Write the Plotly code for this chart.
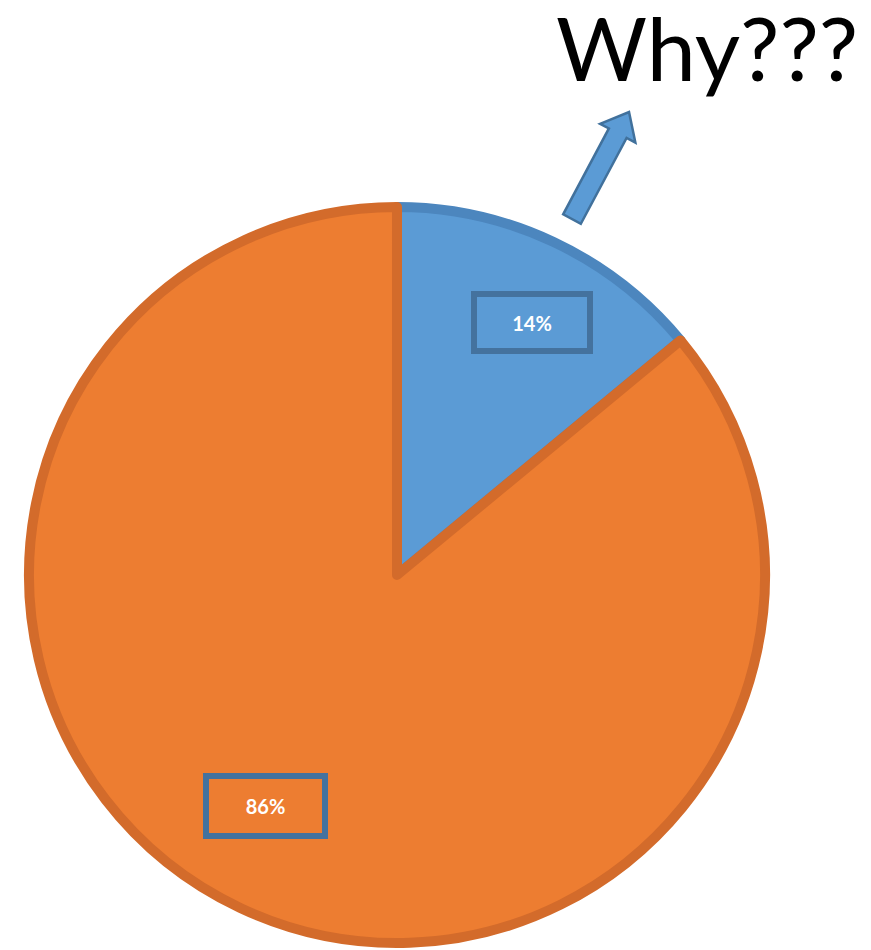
import math
import plotly.graph_objects as go

W, H = 871, 950
OFF = 8  # default page body margin

labels = ["Why", "Other"]
values = [14, 86]
text_labels = ["14%", "86%"]
fill_colors = ["#5B9BD5", "#ED7D31"]
line_colors = ["#4C86BE", "#D36B2B"]
title_text = "Why???"


def px(x, y):
    return (x - OFF) / W, 1 - (y - OFF) / H


fig = go.Figure()

# pie domain in reference pixels (left, right, top, bottom)
L, R, T, B = 29, 765, 207, 943
x0, y1 = px(L, T)
x1, y0 = px(R, B)
fig.add_trace(go.Pie(
    labels=labels, values=values, sort=False, direction="clockwise", rotation=0,
    marker=dict(colors=fill_colors, line=dict(color=line_colors, width=10)),
    textinfo="none", hoverinfo="skip", showlegend=False,
    domain=dict(x=[x0, x1], y=[y0, y1]),
))

# boxed data labels
boxes = [(532, 323, 110, 51), (265, 806, 113, 54)]
for (cx, cy, bw, bh), t in zip(boxes, text_labels):
    x, y = px(cx, cy)
    fig.add_annotation(x=x, y=y, xref="paper", yref="paper", text="<b>%s</b>" % t,
                       showarrow=False, font=dict(family="Lato", size=20, color="white"),
                       bordercolor="#44729E", borderwidth=6, width=bw, height=bh,
                       borderpad=0, bgcolor="rgba(0,0,0,0)", xanchor="center", yanchor="middle")

# block arrow
tail = (572, 219)
tip = (629, 112)
dx, dy = tip[0] - tail[0], tip[1] - tail[1]
ln = math.hypot(dx, dy)
ux, uy = dx / ln, dy / ln
nx, ny = -uy, ux
shaft_w, head_w, head_l = 20, 40, 24
bx, by = tip[0] - ux * head_l, tip[1] - uy * head_l
pts = [
    (tail[0] + nx * shaft_w / 2, tail[1] + ny * shaft_w / 2),
    (bx + nx * shaft_w / 2, by + ny * shaft_w / 2),
    (bx + nx * head_w / 2, by + ny * head_w / 2),
    tip,
    (bx - nx * head_w / 2, by - ny * head_w / 2),
    (bx - nx * shaft_w / 2, by - ny * shaft_w / 2),
    (tail[0] - nx * shaft_w / 2, tail[1] - ny * shaft_w / 2),
]
path = "M " + " L ".join("%.4f,%.4f" % px(x, y) for x, y in pts) + " Z"
fig.add_shape(type="path", path=path, xref="paper", yref="paper",
              fillcolor="#5B9BD5", line=dict(color="#41719C", width=2.5))

x, y = px(707, 47)
fig.add_annotation(x=x, y=y, xref="paper", yref="paper", text=title_text, showarrow=False,
                   font=dict(family="Lato", size=88, color="black"),
                   xanchor="center", yanchor="middle")

fig.update_layout(width=W, height=H, margin=dict(l=0, r=0, t=0, b=0),
                  paper_bgcolor="white", plot_bgcolor="white")
fig.write_html("out.html")
